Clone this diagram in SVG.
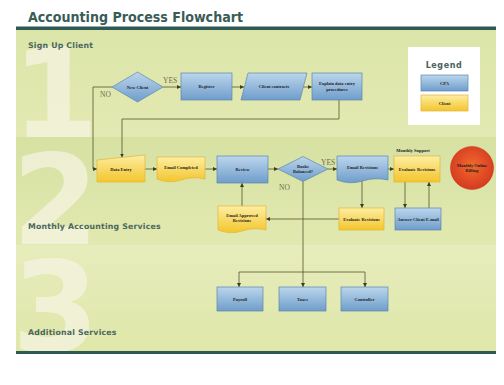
<svg xmlns="http://www.w3.org/2000/svg" width="504" height="385" viewBox="0 0 504 385">
<defs>
<linearGradient id="gBand1" x1="0" y1="0" x2="0" y2="1"><stop offset="0" stop-color="#dbe5a9"/><stop offset="1" stop-color="#e3e9b2"/></linearGradient>
<linearGradient id="gBand2" x1="0" y1="0" x2="0" y2="1"><stop offset="0" stop-color="#d6e1a2"/><stop offset="1" stop-color="#e2e9b0"/></linearGradient>
<linearGradient id="gBand3" x1="0" y1="0" x2="0" y2="1"><stop offset="0" stop-color="#e7ecbc"/><stop offset="1" stop-color="#dfe7a9"/></linearGradient>
<linearGradient id="gBlue" x1="0" y1="0" x2="0" y2="1"><stop offset="0" stop-color="#bcd6ec"/><stop offset="1" stop-color="#6f9dcb"/></linearGradient>
<linearGradient id="gYel" x1="0" y1="0" x2="0" y2="1"><stop offset="0" stop-color="#fdeea2"/><stop offset="1" stop-color="#f4c52c"/></linearGradient>
<radialGradient id="gRed" cx="0.5" cy="0.45" r="0.55"><stop offset="0" stop-color="#f26a2c"/><stop offset="1" stop-color="#d63a22"/></radialGradient>
<marker id="arr" viewBox="0 0 6 6" refX="6" refY="3" markerWidth="4" markerHeight="4" orient="auto" markerUnits="userSpaceOnUse"><path d="M0,0 L6,3 L0,6 z" fill="#3e3d22"/></marker>
</defs>
<style>
.blue{fill:url(#gBlue);stroke:#5a86b0;stroke-width:0.7}
.yel{fill:url(#gYel);stroke:#e2b43a;stroke-width:0.7}
.nt{font-family:"Liberation Serif",serif;font-size:4.5px;font-weight:bold;fill:#1e1e1e;text-anchor:middle}
.lane{font-family:"DejaVu Sans",sans-serif;font-size:7.8px;font-weight:bold;fill:#4b675f;letter-spacing:0.2px}
.big{font-family:"DejaVu Sans",sans-serif;font-weight:bold;font-size:125px;fill:#f6f4e2;opacity:0.75}
.yn{font-family:"Liberation Serif",serif;font-size:7.5px;fill:#6e6e4e}
.con{fill:none;stroke:#55542e;stroke-width:0.8}
</style>
<rect x="0" y="0" width="504" height="385" fill="#ffffff"/>
<text x="28" y="22" font-family="DejaVu Sans,sans-serif" font-weight="bold" font-size="13.5" fill="#3a5c57" textLength="215" lengthAdjust="spacingAndGlyphs">Accounting Process Flowchart</text>
<g id="lanes">
<rect x="16" y="30" width="480" height="107" fill="url(#gBand1)"/>
<rect x="16" y="137" width="480" height="108" fill="url(#gBand2)"/>
<rect x="16" y="245" width="480" height="107" fill="url(#gBand3)"/>
<text class="big" x="12" y="137" font-size="117">1</text>
<text class="big" x="12" y="244">2</text>
<text class="big" x="12" y="351">3</text>
<rect x="16" y="26.5" width="480" height="3.5" fill="#2f5a54"/>
<rect x="16" y="351" width="480" height="3" fill="#2f5a54"/>
<text class="lane" x="28" y="48">Sign Up Client</text>
<text class="lane" x="28" y="229">Monthly Accounting Services</text>
<text class="lane" x="28" y="335">Additional Services</text>
</g>
<g id="legend">
<rect x="408" y="47" width="72" height="78" fill="#ffffff"/>
<text x="444" y="68" font-family="DejaVu Sans,sans-serif" font-size="8" font-weight="bold" fill="#4a6060" text-anchor="middle" letter-spacing="0.6">Legend</text>
<rect class="blue" x="421" y="75" width="47" height="16"/>
<text class="nt" x="444.5" y="84.5">CPA</text>
<rect class="yel" x="421" y="95" width="47" height="16"/>
<text class="nt" x="444.5" y="104.5">Client</text>
</g>
<g id="connectors">
<path class="con" d="M163,87 H181" marker-end="url(#arr)"/>
<path class="con" d="M232,87 H244" marker-end="url(#arr)"/>
<path class="con" d="M303.5,87 H312" marker-end="url(#arr)"/>
<path class="con" d="M339,100 V119 H122 V157.5" marker-end="url(#arr)"/>
<path class="con" d="M112,87 H93 V169 H97" marker-end="url(#arr)"/>
<path class="con" d="M145,169 H157" marker-end="url(#arr)"/>
<path class="con" d="M205,169 H217" marker-end="url(#arr)"/>
<path class="con" d="M268,169 H278" marker-end="url(#arr)"/>
<path class="con" d="M328,169 H337" marker-end="url(#arr)"/>
<path class="con" d="M388,169 H394" marker-end="url(#arr)"/>
<path class="con" d="M362,181 V208" marker-end="url(#arr)"/>
<path class="con" d="M339,219 H266" marker-end="url(#arr)"/>
<path class="con" d="M242,206 V183" marker-end="url(#arr)"/>
<path class="con" d="M405,182 V208" marker-end="url(#arr)"/>
<path class="con" d="M429,208 V182" marker-end="url(#arr)"/>
<path class="con" d="M303,181.5 V272"/>
<path class="con" d="M239,272 H365"/>
<path class="con" d="M239,272 V287" marker-end="url(#arr)"/>
<path class="con" d="M303,272 V287" marker-end="url(#arr)"/>
<path class="con" d="M365,272 V287" marker-end="url(#arr)"/>
<text class="yn" x="163" y="83">YES</text>
<text class="yn" x="100" y="97">NO</text>
<text class="yn" x="321" y="165">YES</text>
<text class="yn" x="279" y="190">NO</text>
</g>
<g id="n-newclient">
<polygon class="blue" points="137.5,72 163,87 137.5,102 112,87"/>
<text class="nt" x="137.5" y="88.5">New Client</text>
</g>
<g id="n-register">
<rect class="blue" x="181" y="73" width="51" height="27"/>
<text class="nt" x="206.5" y="88">Register</text>
</g>
<g id="n-contracts">
<polygon class="blue" points="248,73 307,73 300,100 241,100"/>
<text class="nt" x="274" y="88">Client contracts</text>
</g>
<g id="n-explain">
<rect class="blue" x="312" y="73" width="50" height="27"/>
<text class="nt" x="337" y="85">Explain data entry</text>
<text class="nt" x="337" y="90.5">procedures</text>
</g>
<g id="n-dataentry">
<path class="yel" d="M97,160 L145,155 V182 H97 Z"/>
<text class="nt" x="121" y="171">Data Entry</text>
</g>
<g id="n-emailcompleted">
<path class="yel" d="M157,157 H205 V179 Q193,176 181,180 T157,179 Z"/>
<text class="nt" x="181" y="169">Email Completed</text>
</g>
<g id="n-review">
<rect class="blue" x="217" y="156" width="51" height="27"/>
<text class="nt" x="242.5" y="171">Review</text>
</g>
<g id="n-books">
<polygon class="blue" points="303,156.5 328,169 303,181.5 278,169"/>
<text class="nt" x="303" y="167.5">Books</text>
<text class="nt" x="303" y="172.5">Balanced?</text>
</g>
<g id="n-emailrevisions">
<path class="blue" d="M337,156 H388 V180 Q375,177 362.5,181 T337,180 Z"/>
<text class="nt" x="362.5" y="169">Email Revisions</text>
</g>
<g id="n-evaluate1">
<text class="nt" x="413" y="152">Monthly Support</text>
<rect class="yel" x="394" y="156" width="46" height="26"/>
<text class="nt" x="417" y="170.5">Evaluate Revisions</text>
</g>
<g id="n-billing">
<circle cx="472" cy="168" r="21.5" fill="url(#gRed)" stroke="#c8371f" stroke-width="0.6"/>
<text class="nt" x="472" y="167">Monthly Online</text>
<text class="nt" x="472" y="172">Billing</text>
</g>
<g id="n-approved">
<path class="yel" d="M218,206 H266 V230 Q254,227 242,231 T218,230 Z"/>
<text class="nt" x="242" y="216.5">Email Approved</text>
<text class="nt" x="242" y="221.5">Revisions</text>
</g>
<g id="n-evaluate2">
<rect class="yel" x="339" y="208" width="45" height="22"/>
<text class="nt" x="361.5" y="220.5">Evaluate Revisions</text>
</g>
<g id="n-answer">
<rect class="blue" x="395" y="208" width="46" height="22"/>
<text class="nt" x="418" y="220.5">Answer Client E-mail</text>
</g>
<g id="n-payroll">
<rect class="blue" x="217" y="287" width="46" height="24"/>
<text class="nt" x="240" y="300.5">Payroll</text>
</g>
<g id="n-taxes">
<rect class="blue" x="279" y="287" width="47" height="24"/>
<text class="nt" x="302.5" y="300.5">Taxes</text>
</g>
<g id="n-controller">
<rect class="blue" x="341" y="287" width="47" height="24"/>
<text class="nt" x="364.5" y="300.5">Controller</text>
</g>
</svg>
